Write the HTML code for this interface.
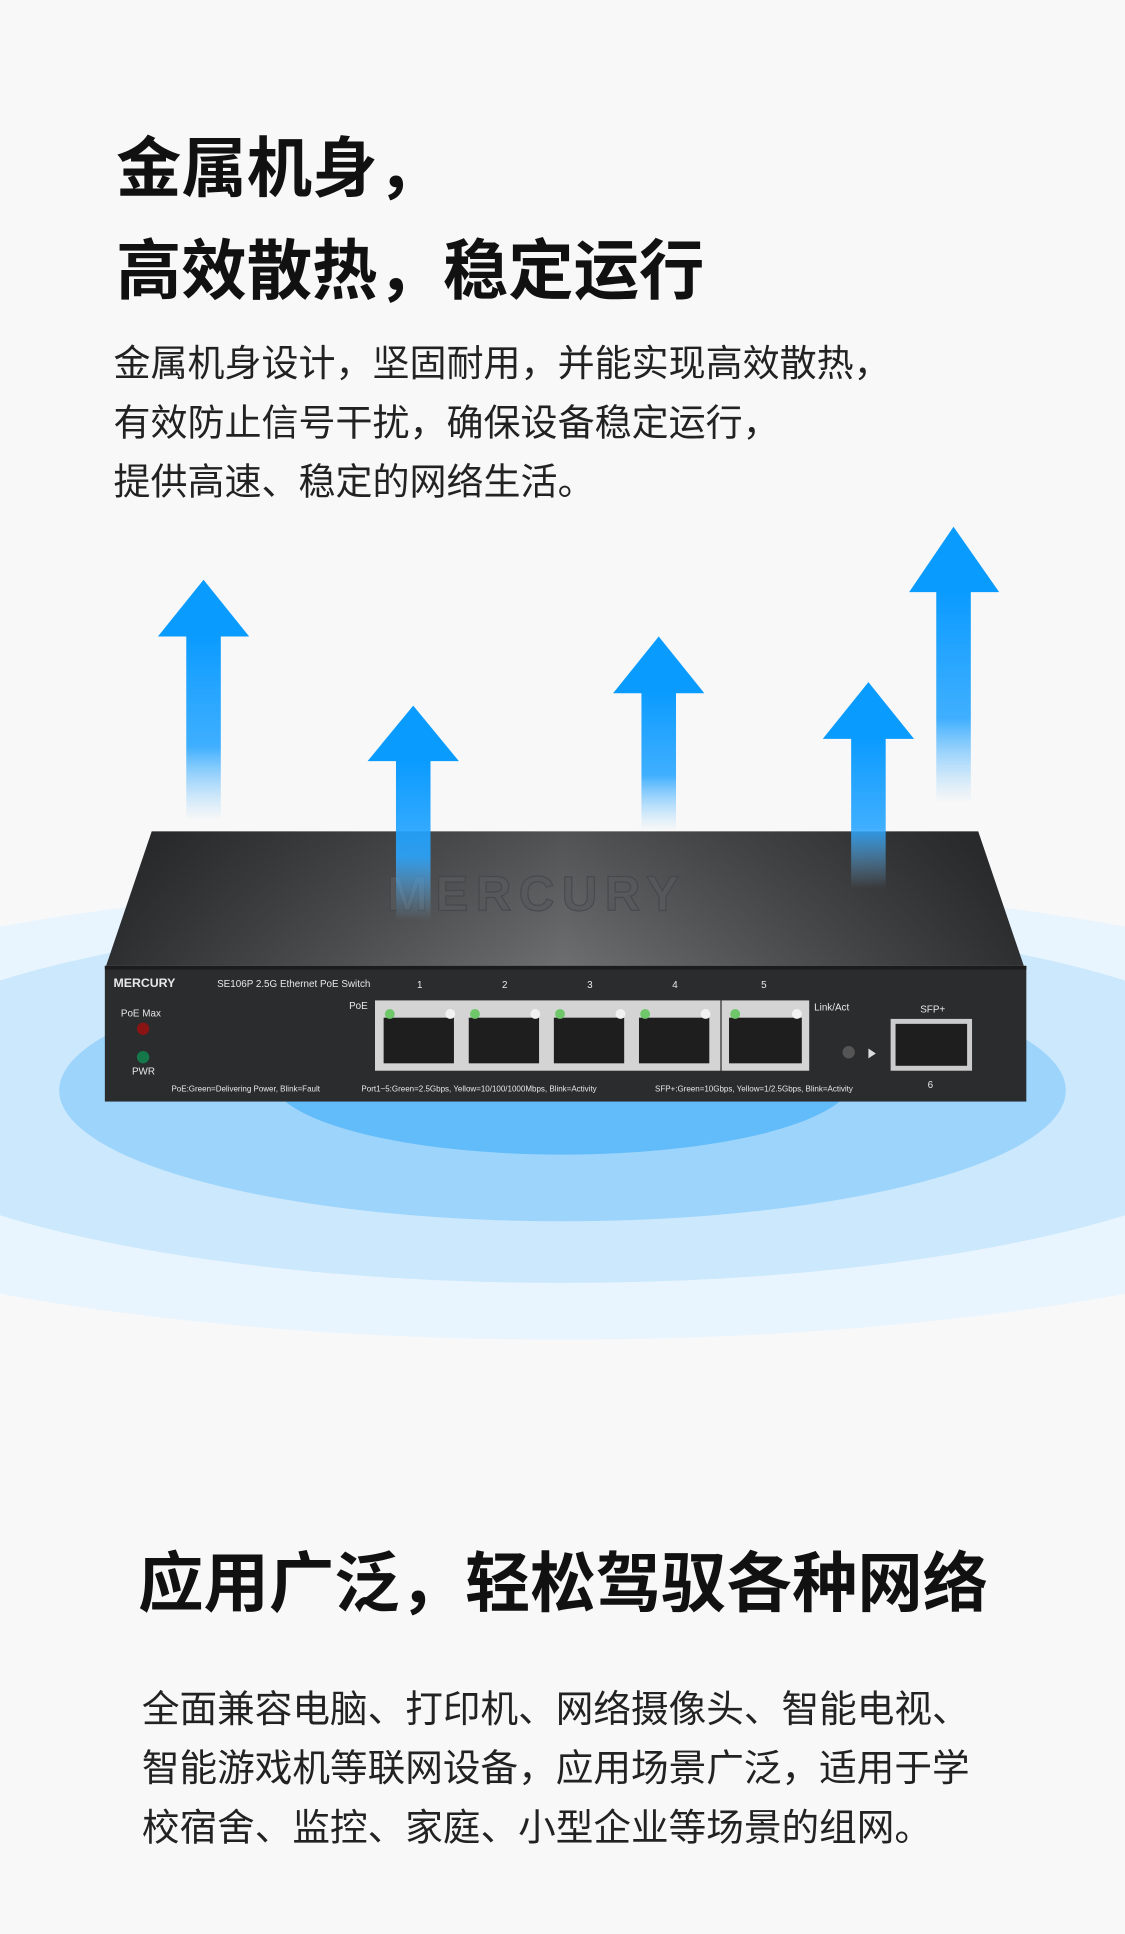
<!DOCTYPE html>
<html><head><meta charset="utf-8"><style>
html,body{margin:0;padding:0;background:#f8f8f8;}
body{width:1125px;height:1934px;overflow:hidden;position:relative;}
#w{position:absolute;left:0;top:0;width:912px;height:1568px;transform:scale(1.23355);transform-origin:0 0;font-family:"Liberation Sans","Noto Sans CJK SC",sans-serif;color:#111;}
.t{position:absolute;white-space:nowrap;}
.h{font-weight:700;font-size:53px;line-height:60px;}
.p{font-size:30px;line-height:48px;color:#222;}
</style></head><body><div id="w">
<svg width="912" height="1568" style="position:absolute;left:0;top:0">
<defs>
<linearGradient id="sh" x1="0" y1="0" x2="0" y2="1"><stop offset="0" stop-color="#0a9bff"/><stop offset="0.6" stop-color="#2aa6ff" stop-opacity="0.9"/><stop offset="1" stop-color="#7cc8ff" stop-opacity="0"/></linearGradient>
<linearGradient id="top" x1="0" y1="0" x2="1" y2="0"><stop offset="0" stop-color="#2e2f31"/><stop offset="0.5" stop-color="#6d6e70"/><stop offset="1" stop-color="#2e2f31"/></linearGradient>
<linearGradient id="topv" x1="0" y1="0" x2="0" y2="1"><stop offset="0" stop-color="#000" stop-opacity="0.25"/><stop offset="1" stop-color="#000" stop-opacity="0"/></linearGradient>
</defs>
<ellipse cx="456" cy="900" rx="760" ry="186" fill="#e9f5fe"/>
<ellipse cx="456" cy="890" rx="590" ry="150" fill="#cbe8fd"/>
<ellipse cx="456" cy="884" rx="408" ry="106" fill="#9dd4fb"/>
<ellipse cx="456" cy="874" rx="236" ry="62" fill="#62bcf9"/>
<polygon points="123,674 793,674 830,783 86,783" fill="url(#top)"/>
<polygon points="123,674 793,674 830,783 86,783" fill="url(#topv)"/>
<text x="435" y="738" font-size="40" font-family="Liberation Sans" font-weight="700" fill="#58595b" stroke="#45464a" stroke-width="1" text-anchor="middle" letter-spacing="6" opacity="0.8">MERCURY</text>
<rect x="85" y="783" width="747" height="110" fill="#2b2c2e"/>
<rect x="85" y="783" width="747" height="3" fill="#1c1c1d"/>
<g font-family="Liberation Sans" fill="#e8e8e8">
<text x="92" y="800" font-size="10" font-weight="700">MERCURY</text>
<text x="176" y="800" font-size="8">SE106P  2.5G Ethernet PoE Switch</text>
<text x="338" y="801" font-size="8">1</text><text x="407" y="801" font-size="8">2</text><text x="476" y="801" font-size="8">3</text><text x="545" y="801" font-size="8">4</text><text x="617" y="801" font-size="8">5</text>
<text x="283" y="818" font-size="8">PoE</text>
<text x="98" y="824" font-size="8">PoE Max</text>
<text x="107" y="871" font-size="8">PWR</text>
<text x="660" y="819" font-size="8">Link/Act</text>
<text x="746" y="821" font-size="8">SFP+</text>
<text x="752" y="882" font-size="8">6</text>
<text x="139" y="885" font-size="6.5">PoE:Green=Delivering Power, Blink=Fault</text>
<text x="293" y="885" font-size="6.5">Port1~5:Green=2.5Gbps, Yellow=10/100/1000Mbps, Blink=Activity</text>
<text x="531" y="885" font-size="6.5">SFP+:Green=10Gbps, Yellow=1/2.5Gbps, Blink=Activity</text>
</g>
<circle cx="116" cy="834" r="5" fill="#8a1414"/><circle cx="116" cy="857" r="5" fill="#14784a"/>
<rect x="304" y="811" width="280" height="57" fill="#d4d4d4"/>
<rect x="585" y="811" width="71" height="57" fill="#d4d4d4"/>
<g fill="#1e1e1e">
<rect x="311" y="825" width="57" height="37"/><rect x="380" y="825" width="57" height="37"/><rect x="449" y="825" width="57" height="37"/><rect x="518" y="825" width="57" height="37"/><rect x="591" y="825" width="59" height="37"/>
</g>
<g fill="#6ec86a"><circle cx="316" cy="822" r="4"/><circle cx="385" cy="822" r="4"/><circle cx="454" cy="822" r="4"/><circle cx="523" cy="822" r="4"/><circle cx="596" cy="822" r="4"/></g>
<g fill="#f2f2f2"><circle cx="365" cy="822" r="4"/><circle cx="434" cy="822" r="4"/><circle cx="503" cy="822" r="4"/><circle cx="572" cy="822" r="4"/><circle cx="646" cy="822" r="4"/></g>
<circle cx="688" cy="853" r="5" fill="#555"/><polygon points="704,850 710,854 704,858" fill="#ddd"/>
<rect x="722" y="826" width="66" height="42" fill="#ccc"/><rect x="726" y="830" width="58" height="34" fill="#1e1e1e"/>
<g fill="#0a9bff">
<polygon points="165,470 202,516 128,516"/><rect x="151" y="515" width="28" height="150" fill="url(#sh)"/>
<polygon points="335,572 372,617 298,617"/><rect x="321" y="616" width="28" height="130" fill="url(#sh)"/>
<polygon points="534,516 571,562 497,562"/><rect x="520" y="561" width="28" height="112" fill="url(#sh)"/>
<polygon points="704,553 741,599 667,599"/><rect x="690" y="598" width="28" height="122" fill="url(#sh)"/>
<polygon points="773,427 810,480 737,480"/><rect x="759" y="479" width="28" height="172" fill="url(#sh)"/>
</g>
</svg>
<div class="t h" style="left:94px;top:108px">金属机身，</div>
<div class="t h" style="left:94px;top:191px">高效散热，稳定运行</div>
<div class="t p" style="left:92px;top:272px">金属机身设计，坚固耐用，并能实现高效散热，<br>有效防止信号干扰，确保设备稳定运行，<br>提供高速、稳定的网络生活。</div>
<div class="t h" style="left:112px;top:1255px">应用广泛，轻松驾驭各种网络</div>
<div class="t p" style="left:115px;top:1362px;font-size:30.5px">全面兼容电脑、打印机、网络摄像头、智能电视、<br>智能游戏机等联网设备，应用场景广泛，适用于学<br>校宿舍、监控、家庭、小型企业等场景的组网。</div>
</div></body></html>
